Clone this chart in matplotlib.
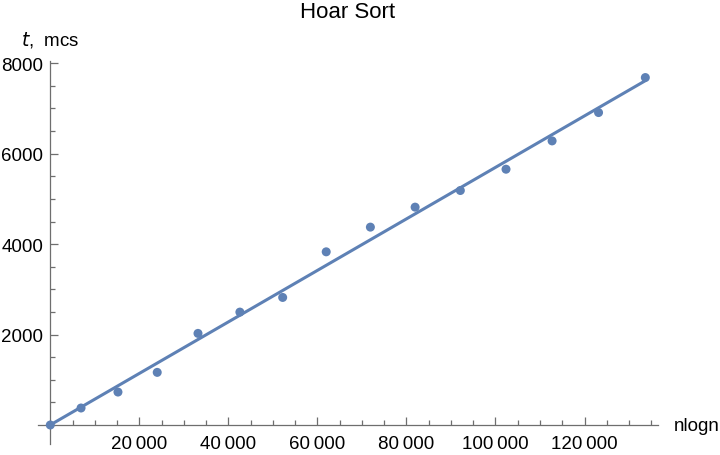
import numpy as np
import matplotlib
matplotlib.use('Agg')
import matplotlib.pyplot as plt
import matplotlib.ticker as mtick

plt.rcParams['font.family'] = ['Liberation Sans', 'DejaVu Sans']

# n*log(n) for n = 1, 1000 .. 14000 and measured time (mcs)
nlogn = [0, 6908, 15202, 24019, 33176, 42586, 52197, 61976,
         71898, 81945, 92103, 102362, 112712, 123145, 133655]
t_mcs = [0, 376, 729, 1164, 2026, 2497, 2821, 3830,
         4376, 4818, 5186, 5657, 6283, 6910, 7684]

x_major = [20000, 40000, 60000, 80000, 100000, 120000]
y_major = [2000, 4000, 6000, 8000]

BLUE = '#5E81B5'
GRAY = '#6e6e6e'


def fmt_num(v, pos=None):
    v = int(round(v))
    if abs(v) >= 10000:
        return f'{v:,}'.replace(',', '\u2009')
    return str(v)


x = np.array(nlogn, dtype=float)
y = np.array(t_mcs, dtype=float)
slope, icept = np.polyfit(x, y, 1)

fig = plt.figure(figsize=(7.2, 4.56), dpi=100)
ax = fig.add_axes([38 / 720, 11 / 456, 620 / 720, 383 / 456])

xs = np.array([x.min(), x.max()])
ax.plot(xs, slope * xs + icept, color=BLUE, lw=2.2, solid_capstyle='round', zorder=2)
ax.scatter(x, y, s=42, color=BLUE, edgecolors='none', zorder=3, clip_on=False)

ax.set_xlim(-2760, 136500)
ax.set_ylim(-420, 8050)

for s in ['top', 'right']:
    ax.spines[s].set_visible(False)
ax.spines['left'].set_position(('data', 0))
ax.spines['bottom'].set_position(('data', 0))
for s in ['left', 'bottom']:
    ax.spines[s].set_color(GRAY)
    ax.spines[s].set_linewidth(0.9)

ax.xaxis.set_major_locator(mtick.FixedLocator(x_major))
ax.xaxis.set_minor_locator(mtick.MultipleLocator(5000))
ax.yaxis.set_major_locator(mtick.FixedLocator(y_major))
ax.yaxis.set_minor_locator(mtick.MultipleLocator(500))
ax.xaxis.set_major_formatter(mtick.FuncFormatter(fmt_num))
ax.yaxis.set_major_formatter(mtick.FuncFormatter(fmt_num))

ax.tick_params(which='both', direction='in', color=GRAY, width=0.9,
               labelsize=13.5, labelcolor='black')
ax.tick_params(which='major', length=6)
ax.tick_params(which='minor', length=3.5)
ax.tick_params(axis='x', which='major', pad=7)
ax.tick_params(axis='y', which='major', pad=5)

fig.text(674 / 720, 1 - 427 / 456, 'nlogn', fontsize=13.5, ha='left', va='center')
fig.text(21 / 720, 1 - 40 / 456, r'$t$,  mcs', fontsize=13.5, ha='left', va='center')
fig.text(347.5 / 720, 1 - 13 / 456, 'Hoar Sort', fontsize=16, ha='center', va='center')

fig.savefig('out.png', dpi=100)
